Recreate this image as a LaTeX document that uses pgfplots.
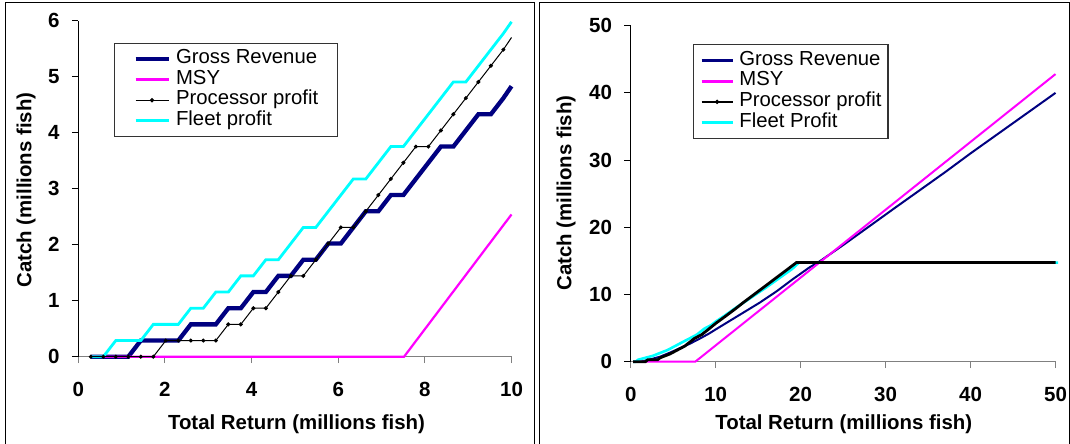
\documentclass[border=0pt]{standalone}
\usepackage{pgfplots}
\pgfplotsset{compat=1.18}
\usepackage{fontspec}
\setmainfont{Liberation Sans}
\definecolor{navyc}{RGB}{0,0,128}
\definecolor{msyc}{RGB}{255,0,255}
\definecolor{fleetc}{RGB}{0,255,255}
\pgfplotsset{
  panel/.style={
    scale only axis,
    anchor=south west,
    height=336pt,
    axis lines=left,
    axis line style={-, line width=1.1pt},
    x axis line style={gray},
    tick align=outside,
    major tick length=6.5pt,
    xtick style={gray, line width=1.1pt},
    ytick style={black, line width=1.1pt},
    /pgf/number format/assume math mode=true,
    ticklabel style={font=\fontsize{20.5}{22}\selectfont\bfseries, inner sep=0pt},
    xticklabel style={anchor=center, yshift=-25.8pt},
    yticklabel style={anchor=east, xshift=-12pt},
    label style={font=\fontsize{20.4}{22}\selectfont\bfseries},
    clip=false,
    legend cell align=left,
  },
  leftleg/.style={legend image code/.code={\draw[##1] (0pt,0pt) -- (33pt,0pt); \path (38.4pt,0pt);}},
  rightleg/.style={legend image code/.code={\draw[##1] (0pt,0pt) -- (31pt,0pt); \path (36.3pt,0pt);}},
}
\begin{document}
\begin{tikzpicture}
\useasboundingbox (0pt,0pt) rectangle (1070pt,444pt);
% ---------------- left panel ----------------
\begin{axis}[panel, leftleg,
  at={(78.3pt,87.3pt)}, width=433.2pt,
  xmin=0, xmax=10, ymin=0, ymax=6,
  xtick={0,2,4,6,8,10}, ytick={0,1,2,3,4,5,6},
  xlabel={Total Return (millions fish)},
  ylabel={Catch (millions fish)},
  xlabel style={at={(axis description cs:0.5037,-0.2003)}, anchor=center},
  ylabel style={at={(axis description cs:-0.1207,0.496)}, anchor=center},
  legend style={at={(0.082,0.9345)}, anchor=north west, draw=black!80, line width=1.1pt,
    inner xsep=19pt, inner ysep=5.5pt, font=\fontsize{20.3}{20}\selectfont,
    cells={anchor=west}, nodes={inner sep=0pt, text height=15pt, text depth=5.6pt}},
]
\addplot[navyc, line width=4.3pt, forget plot] coordinates {
(0.2886,0)(0.5772,0)(0.8658,0)(1.1544,0)(1.443,0.2886)(1.7316,0.2886)(2.0202,0.2886)(2.3088,0.2886)
(2.5974,0.5772)(2.886,0.5772)(3.1746,0.5772)(3.4632,0.8658)(3.7518,0.8658)(4.0404,1.1544)(4.329,1.1544)
(4.6176,1.443)(4.9062,1.443)(5.1948,1.7316)(5.4834,1.7316)(5.772,2.0202)(6.0606,2.0202)(6.3492,2.3088)
(6.6378,2.5974)(6.9264,2.5974)(7.215,2.886)(7.5036,2.886)(7.7922,3.1746)(8.0808,3.4632)(8.3694,3.7518)
(8.658,3.7518)(8.9466,4.0404)(9.2352,4.329)(9.5238,4.329)(9.8124,4.6176)(10,4.83)};
\addplot[msyc, line width=2.2pt, forget plot] coordinates {(0.2886,0)(7.52,0)(10,2.54)};
\addplot[fleetc, line width=2.8pt, forget plot] coordinates {
(0.2886,0)(0.5772,0)(0.8658,0.2886)(1.1544,0.2886)(1.443,0.2886)(1.7316,0.5772)(2.0202,0.5772)(2.3088,0.5772)
(2.5974,0.8658)(2.886,0.8658)(3.1746,1.1544)(3.4632,1.1544)(3.7518,1.443)(4.0404,1.443)(4.329,1.7316)
(4.6176,1.7316)(4.9062,2.0202)(5.1948,2.3088)(5.4834,2.3088)(5.772,2.5974)(6.0606,2.886)(6.3492,3.1746)
(6.6378,3.1746)(6.9264,3.4632)(7.215,3.7518)(7.5036,3.7518)(7.7922,4.0404)(8.0808,4.329)(8.3694,4.6176)
(8.658,4.9062)(8.9466,4.9062)(9.2352,5.1948)(9.5238,5.4834)(9.8124,5.772)(10,5.98)};
\addplot[black, line width=1pt, mark=*, mark size=1.5pt, forget plot] coordinates {
(0.2886,0)(0.5772,0)(0.8658,0)(1.1544,0)(1.443,0)(1.7316,0)(2.0202,0.2886)(2.3088,0.2886)(2.5974,0.2886)
(2.886,0.2886)(3.1746,0.2886)(3.4632,0.5772)(3.7518,0.5772)(4.0404,0.8658)(4.329,0.8658)(4.6176,1.1544)
(4.9062,1.443)(5.1948,1.443)(5.4834,1.7316)(5.772,2.0202)(6.0606,2.3088)(6.3492,2.3088)(6.6378,2.5974)
(6.9264,2.886)(7.215,3.1746)(7.5036,3.4632)(7.7922,3.7518)(8.0808,3.7518)(8.3694,4.0404)(8.658,4.329)
(8.9466,4.6176)(9.2352,4.9062)(9.5238,5.1948)(9.8124,5.4834)};
\addplot[black, line width=1pt, forget plot] coordinates {(9.8124,5.4834)(10,5.70)};
\addlegendimage{navyc, line width=4.3pt}
\addlegendentry{Gross Revenue}
\addlegendimage{msyc, line width=2.4pt}
\addlegendentry{MSY}
\addlegendimage{legend image code/.code={\draw[black, line width=1pt] (0pt,0pt) -- (33pt,0pt); \fill[black] (16.5pt,0pt) circle (1.6pt); \path (38.4pt,0pt);}}
\addlegendentry{Processor profit}
\addlegendimage{fleetc, line width=3pt}
\addlegendentry{Fleet profit}
\end{axis}
% ---------------- right panel ----------------
\begin{axis}[panel, rightleg,
  at={(630.7pt,82.3pt)}, width=424.8pt,
  xmin=0, xmax=50, ymin=0, ymax=50,
  xtick={0,10,20,30,40,50}, ytick={0,10,20,30,40,50},
  xlabel={Total Return (millions fish)},
  ylabel={Catch (millions fish)},
  xlabel style={at={(axis description cs:0.5016,-0.1854)}, anchor=center},
  ylabel style={at={(axis description cs:-0.1523,0.502)}, anchor=center},
  legend style={at={(0.1467,0.9446)}, anchor=north west, draw=black!80, line width=1.1pt,
    inner xsep=6.5pt, inner ysep=5.5pt, font=\fontsize{20.3}{20}\selectfont,
    cells={anchor=west}, nodes={inner sep=0pt, text height=15pt, text depth=5.6pt}},
]
\addplot[navyc, line width=2pt, forget plot] coordinates {
(0.29,0)(1.16,0)(2.31,0.35)(3.46,0.75)(4.62,1.35)(5.77,2.0)(6.93,2.65)(8.08,3.4)(9.24,4.2)(10,4.8)
(11.3,5.8)(13.25,7.3)(15.2,8.8)(17.2,10.5)(19.1,12.3)(20,13.1)(21,14.0)(22.2,14.9)(25,17.35)(28,20.07)
(31,22.8)(34,25.5)(37,28.2)(40,31.0)(43,33.7)(46,36.4)(50,40.0)};
\addplot[msyc, line width=2pt, forget plot] coordinates {(0.29,0)(7.6,0)(50,42.8)};
\addplot[fleetc, line width=2.6pt, forget plot] coordinates {
(0.29,0)(0.58,0)(0.87,0.29)(1.73,0.58)(2.6,0.87)(3.46,1.3)(4.33,1.73)(5.2,2.31)(6.06,2.89)(6.93,3.46)
(7.8,4.04)(8.66,4.91)(9.52,5.48)(10,5.96)(11,6.8)(12,7.7)(13,8.55)(14,9.4)(15,10.25)(16,11.1)(17,12.0)
(18,12.9)(19,13.8)(19.8,14.75)(50.3,14.75)};
\addplot[black, line width=2.8pt, forget plot] coordinates {
(0.29,0)(1.73,0)(2.02,0.29)(3.17,0.29)(3.46,0.58)(4.04,0.87)(4.62,1.15)(5.48,1.73)(6.35,2.31)(7.5,3.46)
(8.37,4.04)(9.24,4.91)(10,5.7)(11.3,6.9)(12.3,7.85)(13.25,8.8)(14.2,9.7)(15.2,10.65)(16.2,11.6)
(17.2,12.55)(18.2,13.5)(19.5,14.75)(50,14.75)};
\addlegendimage{navyc, line width=2.6pt}
\addlegendentry{Gross Revenue}
\addlegendimage{msyc, line width=2.6pt}
\addlegendentry{MSY}
\addlegendimage{legend image code/.code={\draw[black, line width=1.3pt] (0pt,0pt) -- (31pt,0pt); \fill[black] (15.5pt,0pt) circle (1.6pt); \path (36.3pt,0pt);}}
\addlegendentry{Processor profit}
\addlegendimage{fleetc, line width=3pt}
\addlegendentry{Fleet Profit}
\end{axis}
% ---------------- panel frames ----------------
\draw[black, line width=1.1pt] (5.3pt,0pt) -- (5.3pt,441.3pt) -- (534.3pt,441.3pt) -- (534.3pt,0pt);
\draw[black, line width=1.1pt] (539.3pt,0pt) -- (539.3pt,441.3pt) -- (1069.3pt,441.3pt) -- (1069.3pt,0pt);
\end{tikzpicture}
\end{document}
